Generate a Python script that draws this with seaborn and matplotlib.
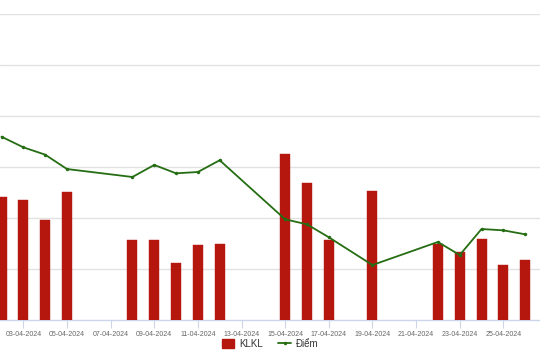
import matplotlib
matplotlib.use("Agg")
import matplotlib.pyplot as plt
import matplotlib.dates as mdates
import numpy as np
import pandas as pd
import seaborn as sns
from matplotlib.patches import Patch
from matplotlib.lines import Line2D

sns.set_theme(style="white")
plt.rcParams['font.family'] = ['Liberation Sans', 'DejaVu Sans']

dates = ["2024-04-02", "2024-04-03", "2024-04-04", "2024-04-05",
         "2024-04-08", "2024-04-09", "2024-04-10", "2024-04-11", "2024-04-12",
         "2024-04-15", "2024-04-16", "2024-04-17", "2024-04-19",
         "2024-04-22", "2024-04-23", "2024-04-24", "2024-04-25", "2024-04-26"]
klkl = [48.1, 47.2, 39.2, 50.3,
        31.4, 31.4, 22.2, 29.5, 29.8,
        65.0, 53.7, 31.3, 50.6,
        29.7, 26.7, 31.8, 21.6, 23.6]
diem = [237.97, 236.93, 236.21, 234.80,
        234.02, 235.20, 234.38, 234.51, 235.66,
        229.87, 229.38, 228.11, 225.39,
        227.65, 226.37, 228.92, 228.79, 228.40]
tick_dates = ["2024-04-03", "2024-04-05", "2024-04-07", "2024-04-09", "2024-04-11",
              "2024-04-13", "2024-04-15", "2024-04-17", "2024-04-19", "2024-04-21",
              "2024-04-23", "2024-04-25"]
tick_labels = [pd.Timestamp(d).strftime("%d-%m-%Y") for d in tick_dates]

BAR = "#b5170f"
LINE = "#256d12"

xnum = mdates.date2num(pd.to_datetime(dates))
df = pd.DataFrame({"x": xnum, "KLKL": klkl, "Diem": diem})

fig = plt.figure(figsize=(5.4, 3.6), dpi=100)
ax = fig.add_axes([0, 40/360, 1, 306/360])

sns.barplot(data=df, x="x", y="KLKL", native_scale=True, width=0.46,
            color=BAR, saturation=1, ax=ax, zorder=3, edgecolor=BAR, linewidth=0.3)

ax.set_ylim(0, 120)
ax.set_yticks([20, 40, 60, 80, 100, 120])
ax.yaxis.grid(True, color="#e2e2e2", linewidth=1)
ax.xaxis.grid(False)
ax.set_axisbelow(True)
ax.tick_params(axis="y", left=False, labelleft=False)

x0 = mdates.date2num(pd.Timestamp("2024-04-02")) - 0.069
x1 = mdates.date2num(pd.Timestamp("2024-04-26")) + 0.68
ax.set_xlim(x0, x1)
tnum = mdates.date2num(pd.to_datetime(tick_dates))
ax.set_xticks(tnum)
ax.set_xticklabels(tick_labels, fontsize=5, color="#666666")
ax.tick_params(axis="x", bottom=True, length=6, width=0.8, color="#ccd6eb", pad=2)
for s in ["top", "left", "right"]:
    ax.spines[s].set_visible(False)
ax.spines["bottom"].set_color("#ccd6eb")
ax.spines["bottom"].set_linewidth(1)
ax.set_xlabel("")
ax.set_ylabel("")

ax2 = ax.twinx()
sns.lineplot(data=df, x="x", y="Diem", ax=ax2, color=LINE, linewidth=1.3,
             marker="o", markersize=2.5, markeredgewidth=0, zorder=5)
ax2.set_ylim(220, 250)
ax2.set_xlim(x0, x1)
ax2.axis("off")
ax2.set_xlabel("")
ax2.set_ylabel("")

handles = [Patch(facecolor=BAR, edgecolor=BAR),
           Line2D([0], [0], color=LINE, linewidth=1.3, marker="o", markersize=2.5, markeredgewidth=0)]
fig.legend(handles, ["KLKL", "Điểm"], loc="center", bbox_to_anchor=(0.5, 1 - 344/360),
           ncol=2, frameon=False, fontsize=7, handlelength=1.3, handleheight=1.1,
           columnspacing=1.6, handletextpad=0.5, labelcolor="#333333")

fig.savefig("out.png", dpi=100)
